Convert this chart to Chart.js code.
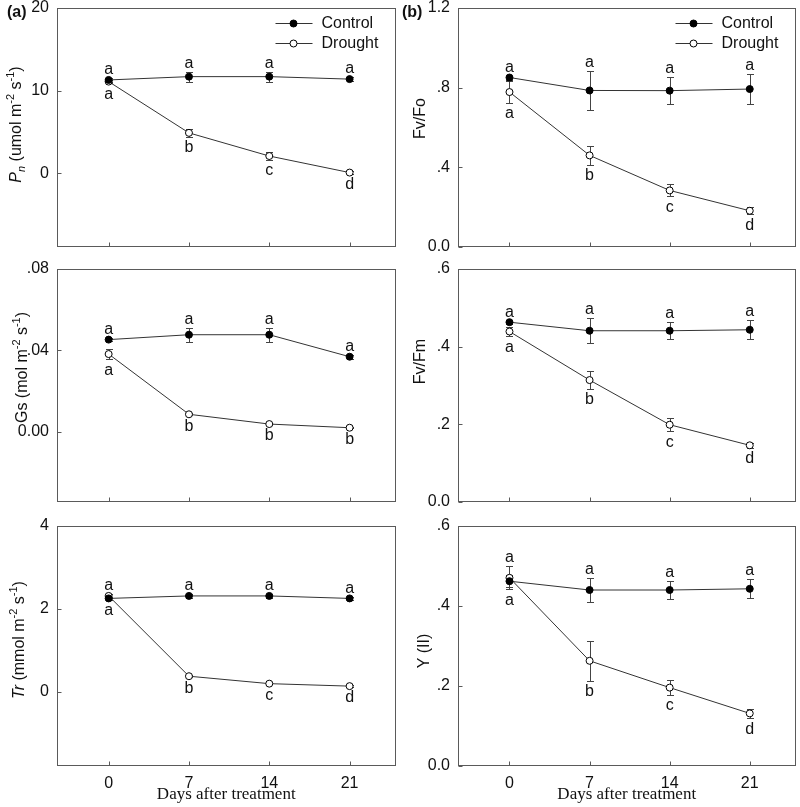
<!DOCTYPE html>
<html>
<head>
<meta charset="utf-8">
<script src="https://cdn.jsdelivr.net/npm/chart.js@4.4.1/dist/chart.umd.min.js"></script>
<style>
html,body{margin:0;padding:0;background:#fff;}
#wrap{position:relative;width:800px;height:807px;overflow:hidden;background:#fff;}
canvas{position:absolute;}
</style>
</head>
<body>
<div id="wrap">
<canvas id="c1" width="400" height="255" style="left:0;top:0;width:400px;height:255px"></canvas>
<canvas id="c2" width="400" height="255" style="left:400px;top:0;width:400px;height:255px"></canvas>
<canvas id="c3" width="400" height="260" style="left:0;top:255px;width:400px;height:260px"></canvas>
<canvas id="c4" width="400" height="260" style="left:400px;top:255px;width:400px;height:260px"></canvas>
<canvas id="c5" width="400" height="292" style="left:0;top:515px;width:400px;height:292px"></canvas>
<canvas id="c6" width="400" height="292" style="left:400px;top:515px;width:400px;height:292px"></canvas>
</div>
<script>
// ---------------- data ----------------
const days = [0, 7, 14, 21];
const dayTickLabels = ['0', '7', '14', '21'];
const seriesNames = ['Control', 'Drought'];
const xAxisTitle = 'Days after treatment';

// (a) Pn
const pnControl = [11.3, 11.7, 11.7, 11.4];
const pnControlErr = [0.2, 0.6, 0.6, 0.2];
const pnDrought = [11.1, 4.9, 2.1, 0.1];
const pnDroughtErr = [0.2, 0.45, 0.45, 0.15];
const pnControlLetters = ['a', 'a', 'a', 'a'];
const pnDroughtLetters = ['a', 'b', 'c', 'd'];
const pnTicks = [0, 10, 20];
const pnTickLabels = ['0', '10', '20'];

// Gs
const gsControl = [0.0453, 0.0477, 0.0477, 0.0369];
const gsControlErr = [0.0006, 0.0034, 0.0034, 0.0010];
const gsDrought = [0.0382, 0.0086, 0.0038, 0.0020];
const gsDroughtErr = [0.0025, 0.0005, 0.0004, 0.0003];
const gsControlLetters = ['a', 'a', 'a', 'a'];
const gsDroughtLetters = ['a', 'b', 'b', 'b'];
const gsTicks = [0, 0.04, 0.08];
const gsTickLabels = ['0.00', '.04', '.08'];

// Tr
const trControl = [2.25, 2.31, 2.31, 2.25];
const trControlErr = [0.03, 0.05, 0.05, 0.03];
const trDrought = [2.31, 0.37, 0.19, 0.13];
const trDroughtErr = [0.04, 0.02, 0.02, 0.02];
const trControlLetters = ['a', 'a', 'a', 'a'];
const trDroughtLetters = ['a', 'b', 'c', 'd'];
const trTicks = [0, 2, 4];
const trTickLabels = ['0', '2', '4'];

// (b) Fv/Fo
const foControl = [0.851, 0.786, 0.785, 0.793];
const foControlErr = [0.010, 0.096, 0.069, 0.077];
const foDrought = [0.778, 0.460, 0.284, 0.182];
const foDroughtErr = [0.053, 0.046, 0.030, 0.018];
const foControlLetters = ['a', 'a', 'a', 'a'];
const foDroughtLetters = ['a', 'b', 'c', 'd'];
const foTicks = [0, 0.4, 0.8, 1.2];
const foTickLabels = ['0.0', '.4', '.8', '1.2'];

// Fv/Fm
const fmControl = [0.463, 0.441, 0.441, 0.4435];
const fmControlErr = [0.004, 0.032, 0.022, 0.0245];
const fmDrought = [0.439, 0.314, 0.199, 0.146];
const fmDroughtErr = [0.012, 0.023, 0.017, 0.006];
const fmControlLetters = ['a', 'a', 'a', 'a'];
const fmDroughtLetters = ['a', 'b', 'c', 'd'];
const fmTicks = [0, 0.2, 0.4, 0.6];
const fmTickLabels = ['0.0', '.2', '.4', '.6'];

// Y(II)
const yiiControl = [0.462, 0.440, 0.440, 0.443];
const yiiControlErr = [0.0155, 0.030, 0.022, 0.024];
const yiiDrought = [0.4705, 0.263, 0.196, 0.1315];
const yiiDroughtErr = [0.029, 0.050, 0.018, 0.012];
const yiiControlLetters = ['a', 'a', 'a', 'a'];
const yiiDroughtLetters = ['a', 'b', 'c', 'd'];
const yiiTicks = [0, 0.2, 0.4, 0.6];
const yiiTickLabels = ['0.0', '.2', '.4', '.6'];

// ---------------- style ----------------
const SANS = '"Liberation Sans", Arial, sans-serif';
const SERIF = '"Liberation Serif", "Times New Roman", serif';
const BOX = '#5a5a5a';
const LINE = '#333333';
const ERR = '#444444';
const TXT = '#111111';

function richFont(s) {
  const size = (s.sup || s.sub) ? 11 : 16;
  return (s.italic ? 'italic ' : '') + size + 'px ' + SANS;
}

function drawRich(ctx, segs, bx, cy) {
  let total = 0;
  const widths = segs.map(s => { ctx.font = richFont(s); const w = ctx.measureText(s.t).width; total += w; return w; });
  ctx.save();
  ctx.translate(bx, cy);
  ctx.rotate(-Math.PI / 2);
  ctx.textAlign = 'left';
  ctx.textBaseline = 'alphabetic';
  ctx.fillStyle = TXT;
  let x = -total / 2;
  segs.forEach((s, i) => {
    ctx.font = richFont(s);
    const dy = s.sup ? -7 : (s.sub ? 4 : 0);
    ctx.fillText(s.t, x, dy);
    x += widths[i];
  });
  ctx.restore();
}

function panelPlugin(p) {
  return {
    id: 'panel_' + p.id,
    beforeDatasetsDraw(chart) {
      const {ctx, chartArea: a, scales} = chart;
      const xs = scales.x, ys = scales.y;
      ctx.save();
      ctx.strokeStyle = BOX;
      ctx.lineWidth = 1;
      const L = Math.round(a.left) + 0.5, T = Math.round(a.top) + 0.5;
      const R = Math.round(a.right) - 0.5, B = Math.round(a.bottom) - 0.5;
      ctx.strokeRect(L, T, R - L, B - T);
      ctx.beginPath();
      xs.ticks.forEach(t => {
        const px = Math.round(xs.getPixelForValue(t.value)) + 0.5;
        ctx.moveTo(px, B); ctx.lineTo(px, B - 4);
      });
      ys.ticks.forEach(t => {
        const py = Math.round(ys.getPixelForValue(t.value)) + 0.5;
        ctx.moveTo(L, py); ctx.lineTo(L + 4, py);
      });
      ctx.stroke();
      // error bars
      ctx.strokeStyle = ERR;
      ctx.beginPath();
      chart.data.datasets.forEach((ds, di) => {
        const meta = chart.getDatasetMeta(di);
        ds.errors.forEach((e, j) => {
          const v = ds.data[j].y;
          const px = Math.round(meta.data[j].x) + 0.5;
          const yt = Math.round(ys.getPixelForValue(v + e)) + 0.5;
          const yb = Math.round(ys.getPixelForValue(v - e)) + 0.5;
          ctx.moveTo(px, yt); ctx.lineTo(px, yb);
          ctx.moveTo(px - 3.5, yt); ctx.lineTo(px + 3.5, yt);
          ctx.moveTo(px - 3.5, yb); ctx.lineTo(px + 3.5, yb);
        });
      });
      ctx.stroke();
      ctx.restore();
    },
    afterDatasetsDraw(chart) {
      const {ctx, scales} = chart;
      const ys = scales.y;
      const dsets = chart.data.datasets;
      ctx.save();
      ctx.font = '16px ' + SANS;
      ctx.fillStyle = TXT;
      ctx.textAlign = 'center';
      ctx.textBaseline = 'alphabetic';
      days.forEach((d, j) => {
        let top = Infinity, bot = -Infinity;
        dsets.forEach(ds => {
          const v = ds.data[j].y, e = ds.errors[j];
          top = Math.min(top, ys.getPixelForValue(v + e));
          bot = Math.max(bot, ys.getPixelForValue(v - e));
        });
        const px = chart.getDatasetMeta(0).data[j].x;
        ctx.fillText(dsets[0].letters[j], px, top - 4);
        ctx.fillText(dsets[1].letters[j], px, bot + 15.5);
      });
      ctx.restore();
    },
    afterDraw(chart) {
      const {ctx, chartArea: a} = chart;
      ctx.save();
      // y-axis title
      drawRich(ctx, p.title, p.titleX, (a.top + a.bottom) / 2 + p.titleDY);
      // panel tag
      if (p.tag) {
        ctx.font = 'bold 16px ' + SANS;
        ctx.fillStyle = TXT;
        ctx.textAlign = 'left';
        ctx.textBaseline = 'alphabetic';
        ctx.fillText(p.tag, p.tagX, 17);
      }
      // legend
      if (p.legend) {
        const x0 = a.right - 120;
        chart.data.datasets.forEach((ds, i) => {
          const yy = Math.round(a.top + 15 + i * 20) + 0.5;
          ctx.strokeStyle = LINE;
          ctx.lineWidth = 1;
          ctx.beginPath();
          ctx.moveTo(x0, yy); ctx.lineTo(x0 + 37, yy);
          ctx.stroke();
          ctx.beginPath();
          ctx.arc(x0 + 18, yy, 3.5, 0, Math.PI * 2);
          ctx.fillStyle = ds.pointBackgroundColor;
          ctx.fill();
          ctx.strokeStyle = '#000';
          ctx.stroke();
          ctx.fillStyle = TXT;
          ctx.font = '16px ' + SANS;
          ctx.textAlign = 'left';
          ctx.textBaseline = 'middle';
          ctx.fillText(ds.label, x0 + 46, yy);
        });
      }
      ctx.restore();
    }
  };
}

function zeroPad(s) {
  s.paddingTop = 0; s.paddingBottom = 0; s.paddingLeft = 0; s.paddingRight = 0;
}

function makePanel(p) {
  const mk = (name, vals, errs, letters, fillCol) => ({
    label: name,
    data: days.map((d, i) => ({x: d, y: vals[i]})),
    errors: errs,
    letters: letters,
    borderColor: LINE,
    borderWidth: 1,
    pointRadius: 3.5,
    pointHoverRadius: 3.5,
    pointBackgroundColor: fillCol,
    pointBorderColor: '#000',
    pointBorderWidth: 1,
    fill: false,
    tension: 0
  });
  new Chart(document.getElementById(p.id), {
    type: 'line',
    data: {
      datasets: [
        mk(seriesNames[0], p.control, p.controlErr, p.controlLetters, '#000000'),
        mk(seriesNames[1], p.drought, p.droughtErr, p.droughtLetters, '#ffffff')
      ]
    },
    options: {
      responsive: false,
      animation: false,
      devicePixelRatio: 1,
      layout: {padding: {left: 0, right: 4, top: p.padTop, bottom: 0}},
      plugins: {legend: {display: false}, tooltip: {enabled: false}},
      scales: {
        x: {
          type: 'linear',
          min: -4.5, max: 25,
          afterBuildTicks: ax => { ax.ticks = days.map(v => ({value: v})); },
          afterFit: s => { s.height = p.xHeight; zeroPad(s); },
          grid: {display: false, drawTicks: false, tickLength: 0},
          border: {display: false},
          ticks: {
            display: p.showX,
            autoSkip: false, maxRotation: 0,
            padding: 8,
            color: TXT,
            font: {family: SANS, size: 16},
            callback: v => dayTickLabels[days.indexOf(v)]
          },
          title: {
            display: p.showX,
            text: xAxisTitle,
            color: TXT,
            font: {family: SERIF, size: 17},
            padding: {top: 0, bottom: 2}
          }
        },
        y: {
          type: 'linear',
          min: p.yMin, max: p.yMax,
          afterBuildTicks: ax => { ax.ticks = p.ticks.map(v => ({value: v})); },
          afterFit: s => { s.width = p.yWidth; zeroPad(s); },
          grid: {display: false, drawTicks: false, tickLength: 0},
          border: {display: false},
          ticks: {
            autoSkip: false,
            padding: 8,
            color: TXT,
            font: {family: SANS, size: 16},
            callback: v => p.tickLabels[p.ticks.indexOf(v)]
          }
        }
      }
    },
    plugins: [panelPlugin(p)]
  });
}

const tPn = [{t: 'P', italic: true}, {t: 'n', italic: true, sub: true}, {t: ' (umol m'}, {t: '-2', sup: true}, {t: ' s'}, {t: '-1', sup: true}, {t: ')'}];
const tGs = [{t: 'Gs (mol m'}, {t: '-2', sup: true}, {t: ' s'}, {t: '-1', sup: true}, {t: ')'}];
const tTr = [{t: 'Tr', italic: true}, {t: ' (mmol m'}, {t: '-2', sup: true}, {t: ' s'}, {t: '-1', sup: true}, {t: ')'}];

makePanel({id: 'c1', control: pnControl, controlErr: pnControlErr, drought: pnDrought, droughtErr: pnDroughtErr,
  controlLetters: pnControlLetters, droughtLetters: pnDroughtLetters, ticks: pnTicks, tickLabels: pnTickLabels,
  yMin: -8.9, yMax: 20, padTop: 8, xHeight: 8, yWidth: 57, showX: false, legend: true, tag: '(a)', tagX: 7,
  title: tPn, titleX: 21, titleDY: -3});
makePanel({id: 'c2', control: foControl, controlErr: foControlErr, drought: foDrought, droughtErr: foDroughtErr,
  controlLetters: foControlLetters, droughtLetters: foDroughtLetters, ticks: foTicks, tickLabels: foTickLabels,
  yMin: 0, yMax: 1.2, padTop: 8, xHeight: 8, yWidth: 58, showX: false, legend: true, tag: '(b)', tagX: 2,
  title: [{t: 'Fv/Fo'}], titleX: 25, titleDY: -9});
makePanel({id: 'c3', control: gsControl, controlErr: gsControlErr, drought: gsDrought, droughtErr: gsDroughtErr,
  controlLetters: gsControlLetters, droughtLetters: gsDroughtLetters, ticks: gsTicks, tickLabels: gsTickLabels,
  yMin: -0.0345, yMax: 0.08, padTop: 14, xHeight: 13, yWidth: 57, showX: false, legend: false,
  title: tGs, titleX: 27, titleDY: -18});
makePanel({id: 'c4', control: fmControl, controlErr: fmControlErr, drought: fmDrought, droughtErr: fmDroughtErr,
  controlLetters: fmControlLetters, droughtLetters: fmDroughtLetters, ticks: fmTicks, tickLabels: fmTickLabels,
  yMin: 0, yMax: 0.6, padTop: 14, xHeight: 13, yWidth: 58, showX: false, legend: false,
  title: [{t: 'Fv/Fm'}], titleX: 25, titleDY: -24});
makePanel({id: 'c5', control: trControl, controlErr: trControlErr, drought: trDrought, droughtErr: trDroughtErr,
  controlLetters: trControlLetters, droughtLetters: trDroughtLetters, ticks: trTicks, tickLabels: trTickLabels,
  yMin: -1.8, yMax: 4, padTop: 11, xHeight: 41, yWidth: 57, showX: true, legend: false,
  title: tTr, titleX: 24, titleDY: -6});
makePanel({id: 'c6', control: yiiControl, controlErr: yiiControlErr, drought: yiiDrought, droughtErr: yiiDroughtErr,
  controlLetters: yiiControlLetters, droughtLetters: yiiDroughtLetters, ticks: yiiTicks, tickLabels: yiiTickLabels,
  yMin: 0, yMax: 0.6, padTop: 11, xHeight: 41, yWidth: 58, showX: true, legend: false,
  title: [{t: 'Y (II)'}], titleX: 29, titleDY: 5});
</script>
</body>
</html>
